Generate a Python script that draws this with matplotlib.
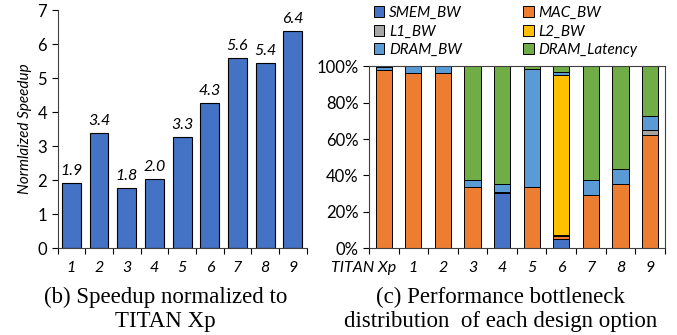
import matplotlib.pyplot as plt
import matplotlib.transforms as mtransforms
import numpy as np

plt.rcParams['font.family'] = ['Lato', 'DejaVu Sans']

# speedup data (panel b)
designs = ['1', '2', '3', '4', '5', '6', '7', '8', '9']
speedup = [1.92, 3.38, 1.78, 2.03, 3.27, 4.27, 5.58, 5.44, 6.38]
speedup_labels = ['1.9', '3.4', '1.8', '2.0', '3.3', '4.3', '5.6', '5.4', '6.4']

# bottleneck distribution (panel c), percent
configs = ['TITAN Xp', '1', '2', '3', '4', '5', '6', '7', '8', '9']
smem_bw = [0, 0, 0, 0, 30.5, 0, 5, 0, 0, 0]
mac_bw = [98, 96.3, 96.3, 33.5, 0.5, 33.5, 2, 29.1, 35.3, 62.2]
l1_bw = [0, 0, 0, 0, 0, 0, 0.5, 0, 0, 2.8]
l2_bw = [0, 0, 0, 0, 0, 0, 88, 0, 0, 0]
dram_bw = [1.5, 3.7, 3.7, 4, 4.5, 65, 1.5, 8.3, 8.3, 7.7]
dram_lat = [0.5, 0, 0, 62.5, 64.5, 1.5, 3, 62.6, 56.4, 27.3]

series_names = ['SMEM_BW', 'MAC_BW', 'L1_BW', 'L2_BW', 'DRAM_BW', 'DRAM_Latency']
series_colors = ['#4472c4', '#ed7d31', '#a5a5a5', '#ffc000', '#5b9bd5', '#70ad47']

fig = plt.figure(figsize=(6.77, 3.35), dpi=100)

# Panel (b)
ax1 = fig.add_axes([0.085, 0.259, 0.368, 0.711])
x1 = np.arange(len(designs))
ax1.bar(x1, speedup, width=0.68, color='#4472c4', edgecolor='black', linewidth=0.8)
for i, v in enumerate(speedup):
    ax1.text(i, v + 0.15, speedup_labels[i], ha='center', va='bottom', fontsize=11.5, style='italic')
ax1.set_xlim(-0.5, len(designs) - 0.5)
ax1.set_ylim(0, 7)
ax1.set_yticks(range(0, 8))
ax1.set_xticks(x1)
ax1.set_xticklabels(designs, style='italic', fontsize=11.5)
ax1.set_xticks(np.arange(-0.5, len(designs)), minor=True)
ax1.tick_params(axis='x', which='major', length=0, pad=9)
ax1.tick_params(axis='x', which='minor', length=4, width=0.8, direction='out')
ax1.tick_params(axis='y', labelsize=12, length=4, width=0.8)
ax1.set_ylabel('Normlaized Speedup', style='italic', fontsize=11)
ax1.spines['top'].set_visible(False)
ax1.spines['right'].set_visible(False)
for s in ['left', 'bottom']:
    ax1.spines[s].set_color('#404040')

# Panel (c)
ax2 = fig.add_axes([0.545, 0.259, 0.437, 0.543])
x2 = np.arange(len(configs))
data = np.array([smem_bw, mac_bw, l1_bw, l2_bw, dram_bw, dram_lat])
bottom = np.zeros(len(configs))
handles = []
for name, color, vals in zip(series_names, series_colors, data):
    h = ax2.bar(x2, vals, bottom=bottom, width=0.55, color=color, edgecolor='black', linewidth=0.7, label=name)
    handles.append(h)
    bottom += vals
ax2.set_xlim(-0.5, len(configs) - 0.5)
ax2.set_ylim(0, 100)
ax2.set_yticks(range(0, 101, 20))
ax2.set_yticklabels([f'{v}%' for v in range(0, 101, 20)], fontsize=12)
ax2.set_xticks(x2)
ax2.set_xticklabels(configs, style='italic', fontsize=11.5)
ax2.set_xticks(np.arange(-0.5, len(configs)), minor=True)
ax2.tick_params(axis='x', which='major', length=0, pad=9)
ax2.tick_params(axis='x', which='minor', length=4, width=0.8, direction='out')
ax2.tick_params(axis='y', length=4, width=0.8)
for s in ax2.spines.values():
    s.set_color('#404040')
# shift the long first label to the left like the original
first = ax2.get_xticklabels()[0]
first.set_transform(first.get_transform() + mtransforms.ScaledTranslation(-0.2, 0, fig.dpi_scale_trans))

order = [0, 2, 4, 1, 3, 5]
ax2.legend([handles[i] for i in order], [series_names[i] for i in order], ncol=2,
           loc='lower left', bbox_to_anchor=(-0.015, 1.0), frameon=False,
           prop={'style': 'italic', 'size': 11}, handlelength=0.7, handleheight=0.7,
           handletextpad=0.3, columnspacing=4.0, labelspacing=0.3, borderaxespad=0.2)

# captions
cap = dict(ha='center', va='baseline', family='Liberation Serif', fontsize=16.5)
fig.text(0.244, 0.095, '(b) Speedup normalized to', **cap)
fig.text(0.244, 0.024, 'TITAN Xp', **cap)
fig.text(0.739, 0.095, '(c) Performance bottleneck', **cap)
fig.text(0.739, 0.024, 'distribution  of each design option', **cap)

plt.savefig('out.png', dpi=100)
